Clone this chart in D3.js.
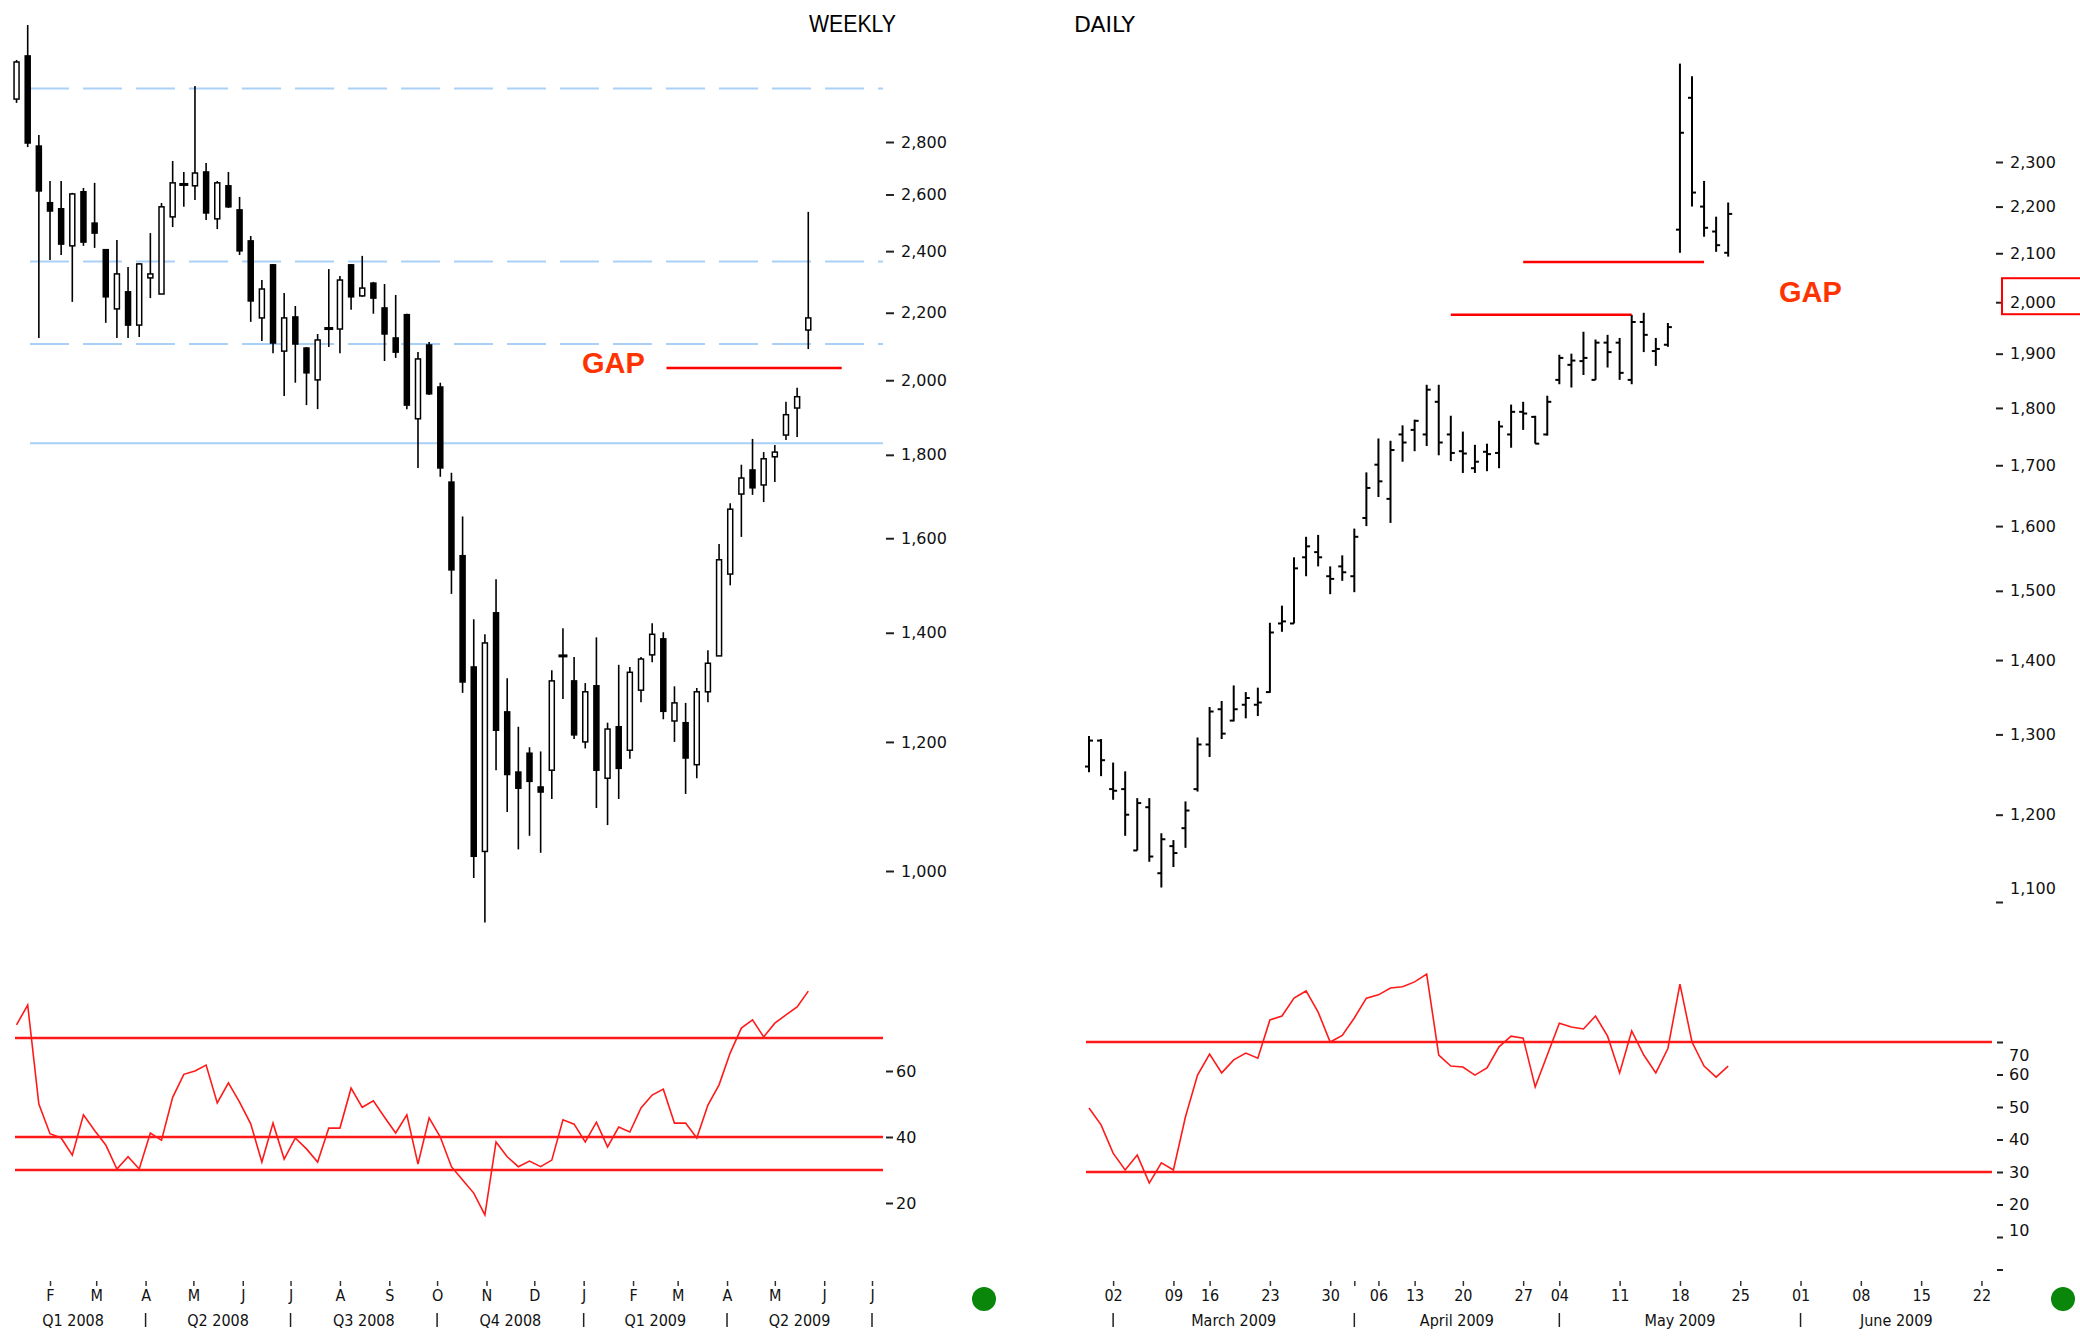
<!DOCTYPE html>
<html>
<head>
<meta charset="utf-8">
<script src="https://cdn.jsdelivr.net/npm/d3@7"></script>
<style>
  html, body { margin: 0; padding: 0; background: #fff; }
  svg { display: block; }
  .lbl { font-family: "DejaVu Sans", Verdana, sans-serif; font-size: 16px; fill: #111; }
  .xl { font-family: "DejaVu Sans Condensed", "DejaVu Sans", sans-serif; font-stretch: condensed; font-size: 16px; fill: #111; }
  .gap { font-family: "Liberation Sans", Arial, sans-serif; font-weight: bold; font-size: 29px; fill: #ff3300; }
  .title { font-family: "DejaVu Sans", Verdana, sans-serif; font-size: 22px; fill: #000; }
</style>
</head>
<body>
<div id="chart"></div>
<script>
// ---------- weekly candles (Jan 2008 - May 2009) ----------
var weeklyStart = "2008-01-11";
var weeklyOpen  = [2975,3162,2784,2570,2548,2418,2610,2497,2405,2212,2266,2162,2311,2259,2519,2639,2632,2684,2512,2632,2544,2435,2184,2354,2084,2187,2093,2001,2153,2150,2354,2253,2294,2215,2123,2194,1894,2102,1981,1732,1561,1334,1028,1440,1252,1150,1181,1126,1153,1357,1308,1200,1299,1140,1226,1186,1291,1357,1388,1236,1233,1162,1288,1355,1521,1703,1762,1725,1795,1851,1923,2147];
var weeklyHigh  = [3144,3303,2828,2650,2650,2606,2624,2643,2407,2438,2347,2360,2462,2569,2726,2684,3030,2718,2650,2684,2591,2452,2304,2357,2262,2221,2096,2135,2340,2317,2357,2384,2298,2291,2256,2197,2081,2111,1993,1755,1650,1427,1397,1510,1313,1226,1191,1184,1328,1409,1353,1304,1391,1233,1338,1334,1353,1419,1401,1298,1268,1295,1366,1587,1681,1775,1841,1807,1825,1940,1979,2537];
var weeklyLow   = [2959,2780,2123,2370,2387,2234,2418,2411,2169,2123,2123,2126,2246,2259,2483,2555,2580,2508,2476,2551,2387,2172,2114,2078,1956,1993,1931,1920,2096,2078,2209,2250,2197,2055,2064,1920,1767,1959,1745,1479,1286,990,930,1153,1087,1031,1051,1026,1107,1275,1205,1189,1093,1067,1107,1172,1269,1343,1239,1200,1115,1140,1269,1355,1497,1603,1701,1684,1732,1838,1846,2090];
var weeklyClose = [3135,2796,2613,2540,2424,2602,2431,2462,2250,2324,2162,2357,2324,2555,2643,2635,2680,2533,2643,2555,2401,2237,2275,2108,2184,2105,2021,2117,2150,2304,2250,2278,2246,2135,2081,1931,2061,1962,1767,1530,1306,1021,1380,1220,1146,1124,1135,1118,1308,1353,1212,1288,1153,1222,1156,1324,1349,1397,1253,1268,1173,1288,1341,1552,1667,1742,1718,1790,1807,1905,1954,2184];
var weeklyRsi   = [74,80,50,41,39.7,34.5,46.7,42,37.6,30.3,34,30.3,41.2,39,52,59,60,61.8,50.3,56.4,50.6,44,32.4,44.2,33.3,39.7,36.4,32.4,42.7,42.7,54.8,49,51,46,41.2,46.7,31.8,45.8,40,31,27,23,16.4,38.5,34,31,32.7,31,33,45.2,43.9,38.5,44.5,37,43,41.5,48.8,52.7,54.5,44.2,44.2,39.7,49.7,55.8,65.5,73,75.5,70.3,74.5,77,79.4,84.2];

var weeklyPriceTicks = [1000,1200,1400,1600,1800,2000,2200,2400,2600,2800];
var weeklyLevels = [3020, 2365, 2105, 1830];
var weeklyLevelDashed = [true, true, true, false];
var weeklyGap = { from: "2009-02-22", to: "2009-06-12", value: 2035 };
var weeklyRsiLevels = [70, 40, 30];
var weeklyRsiTicks = [20, 40, 60];
var monthLetters = ["J","F","M","A","M","J","J","A","S","O","N","D"];
var quarterNames = ["Q1 2008","Q2 2008","Q3 2008","Q4 2008","Q1 2009","Q2 2009"];

// ---------- daily bars (26 Feb - 22 May 2009) ----------
var dailyDates = ["2009-02-26","2009-02-27",
  "2009-03-02","2009-03-03","2009-03-04","2009-03-05","2009-03-06",
  "2009-03-09","2009-03-12","2009-03-13",
  "2009-03-16","2009-03-17","2009-03-18","2009-03-19","2009-03-20",
  "2009-03-23","2009-03-24","2009-03-25","2009-03-26","2009-03-27",
  "2009-03-30","2009-03-31","2009-04-01","2009-04-02",
  "2009-04-06","2009-04-08","2009-04-09",
  "2009-04-13","2009-04-15","2009-04-16","2009-04-17",
  "2009-04-20","2009-04-21","2009-04-22","2009-04-23","2009-04-24",
  "2009-04-27","2009-04-28","2009-04-29",
  "2009-05-04","2009-05-05","2009-05-06","2009-05-07","2009-05-08",
  "2009-05-11","2009-05-12","2009-05-13","2009-05-14","2009-05-15",
  "2009-05-18","2009-05-19","2009-05-20","2009-05-21","2009-05-22"];
var futureDates = ["2009-05-25","2009-05-26","2009-05-27","2009-05-28","2009-05-29",
  "2009-06-01","2009-06-02","2009-06-03","2009-06-04","2009-06-05",
  "2009-06-08","2009-06-09","2009-06-10","2009-06-11","2009-06-12",
  "2009-06-15","2009-06-16","2009-06-17","2009-06-18","2009-06-19",
  "2009-06-22","2009-06-23","2009-06-24","2009-06-25","2009-06-26"];
var dailyOpen  = [1259,1292,1231,1231,1158,1209,1132,1163,1184,1231,1287,1333,1318,1339,1339,1356,1452,1452,1551,1559,1522,1537,1522,1613,1701,1644,1753,1761,1753,1811,1753,1724,1695,1723,1721,1753,1793,1784,1753,1851,1879,1886,1851,1921,1921,1851,1961,1905,1917,2150,2452,2200,2146,2101];
var dailyHigh  = [1298,1294,1264,1253,1220,1220,1178,1170,1216,1296,1336,1344,1365,1356,1362,1453,1478,1551,1583,1586,1537,1554,1596,1688,1746,1742,1769,1779,1842,1842,1786,1758,1735,1737,1777,1806,1811,1786,1822,1898,1900,1942,1927,1936,1930,1975,1979,1930,1959,2537,2505,2257,2178,2209];
var dailyLow   = [1252,1247,1218,1175,1158,1145,1116,1139,1161,1228,1271,1294,1317,1321,1324,1355,1440,1452,1522,1537,1495,1515,1498,1600,1647,1605,1706,1724,1733,1717,1707,1687,1687,1690,1695,1730,1761,1737,1751,1843,1837,1860,1851,1874,1851,1843,1903,1877,1913,2101,2200,2135,2103,2093];
var dailyClose = [1292,1267,1229,1200,1214,1151,1171,1155,1205,1287,1330,1301,1333,1348,1342,1439,1455,1534,1568,1551,1518,1528,1583,1662,1673,1726,1739,1777,1833,1739,1721,1720,1706,1719,1767,1793,1790,1737,1811,1892,1887,1892,1921,1903,1864,1961,1936,1909,1951,2368,2231,2154,2117,2184];
var dailyRsi   = [49.7,44.5,35.8,30.6,35.2,26.6,32.8,30.6,47,59.8,66.3,60.5,64.5,66.6,65,76.8,78,83.5,85.7,79.2,70,72,77.4,83.5,84.5,86.6,87,88.5,90.9,66,62.6,62.3,59.8,62,68.5,71.8,71.2,56.2,66,75.8,74.6,74,78,71.8,60.5,73.4,66,60.5,68,87.8,70,62.6,59.2,62.6];

var dailyPriceTicks = [1100,1200,1300,1400,1500,1600,1700,1800,1900,2000,2100,2200,2300];
var dailyGaps = [
  { from: "2009-04-27", to: "2009-05-20", value: 2082 },
  { from: "2009-04-17", to: "2009-05-12", value: 1975 }
];
var dailyRsiLevels = [70, 30];
var dailyRsiTicks = [0, 10, 20, 30, 40, 50, 60, 70];
var monthNames = ["January","February","March","April","May","June"];

// ---------- drawing ----------
var parse = d3.timeParse("%Y-%m-%d");
var svg = d3.select("#chart").append("svg")
  .attr("width", 2080).attr("height", 1338);
svg.append("rect").attr("width", 2080).attr("height", 1338).attr("fill", "#fff");

var red = "#ff1a1a";

// ===== WEEKLY =====
var wStart = parse(weeklyStart);
var weeks = weeklyOpen.map(function (d, i) {
  return { date: d3.timeWeek.offset(wStart, i), o: d, h: weeklyHigh[i], l: weeklyLow[i], c: weeklyClose[i], rsi: weeklyRsi[i] };
});

var xW = d3.scaleTime().domain([new Date(2008, 1, 1), new Date(2009, 6, 1)]).range([50, 872]);
var yW = d3.scaleLog().domain([1000, 2800]).range([871, 142]);

var gW = svg.append("g");

// support / resistance levels
weeklyLevels.forEach(function (v, i) {
  gW.append("line")
    .attr("x1", 30).attr("x2", 883)
    .attr("y1", yW(v)).attr("y2", yW(v))
    .attr("stroke", "#a9d0f7").attr("stroke-width", 2)
    .attr("stroke-dasharray", weeklyLevelDashed[i] ? "39,14" : null);
});

// candles
var candle = gW.selectAll(".candle").data(weeks).enter().append("g").attr("class", "candle");
candle.append("line")
  .attr("x1", function (d) { return xW(d.date); })
  .attr("x2", function (d) { return xW(d.date); })
  .attr("y1", function (d) { return yW(d.h); })
  .attr("y2", function (d) { return yW(d.l); })
  .attr("stroke", "#000").attr("stroke-width", 1.6);
candle.append("rect")
  .each(function (d) {
    var top = yW(Math.max(d.o, d.c)), bot = yW(Math.min(d.o, d.c));
    var doji = bot - top < 3;
    var w = doji ? 9 : 5;
    d3.select(this)
      .attr("x", xW(d.date) - w / 2)
      .attr("y", doji ? (top + bot) / 2 - 1.5 : top)
      .attr("width", w)
      .attr("height", doji ? 3 : bot - top)
      .attr("fill", (d.c < d.o || doji) ? "#000" : "#fff")
      .attr("stroke", "#000")
      .attr("stroke-width", doji ? 0 : 1.5);
  });

// gap
gW.append("line")
  .attr("x1", xW(parse(weeklyGap.from))).attr("x2", xW(parse(weeklyGap.to)))
  .attr("y1", yW(weeklyGap.value)).attr("y2", yW(weeklyGap.value))
  .attr("stroke", "#ff0000").attr("stroke-width", 2.5);
gW.append("text").attr("class", "gap").attr("x", 582).attr("y", 373).text("GAP");

// price axis
var axW = gW.append("g").attr("transform", "translate(886,0)")
  .call(d3.axisRight(yW).tickValues(weeklyPriceTicks).tickSize(8).tickPadding(7).tickFormat(d3.format(",")));
axW.select(".domain").remove();
axW.selectAll("line").attr("stroke", "#222").attr("stroke-width", 2);
axW.selectAll("text").attr("class", "lbl");
axW.attr("font-family", null).attr("font-size", null);

gW.append("text").attr("x", 809).attr("y", 32)
  .attr("font-family", "Liberation Sans, Arial, sans-serif").attr("font-size", 23)
  .attr("textLength", 87).attr("lengthAdjust", "spacingAndGlyphs")
  .attr("fill", "#000").text("WEEKLY");

// weekly RSI
var yWR = d3.scaleLinear().domain([0, 100]).range([1269, 939]);
weeklyRsiLevels.forEach(function (v) {
  gW.append("line").attr("x1", 15).attr("x2", 883)
    .attr("y1", yWR(v)).attr("y2", yWR(v))
    .attr("stroke", red).attr("stroke-width", 2.6);
});
gW.append("path").datum(weeks)
  .attr("fill", "none").attr("stroke", red).attr("stroke-width", 1.6)
  .attr("d", d3.line().x(function (d) { return xW(d.date); }).y(function (d) { return yWR(d.rsi); }));
var axWR = gW.append("g").attr("transform", "translate(886,0)")
  .call(d3.axisRight(yWR).tickValues(weeklyRsiTicks).tickSize(7).tickPadding(3));
axWR.select(".domain").remove();
axWR.selectAll("line").attr("stroke", "#222").attr("stroke-width", 2);
axWR.selectAll("text").attr("class", "lbl");
axWR.attr("font-family", null).attr("font-size", null);

// weekly time axis
var monthStarts = d3.timeMonth.range(new Date(2008, 1, 1), new Date(2009, 6, 2));
var axWX = gW.append("g").attr("transform", "translate(0,1281)")
  .call(d3.axisBottom(xW).tickValues(monthStarts).tickSize(5).tickPadding(4)
    .tickFormat(function (d) { return monthLetters[d.getMonth()]; }));
axWX.select(".domain").remove();
axWX.selectAll("line").attr("stroke", "#333").attr("stroke-width", 1.5);
axWX.selectAll("text").attr("class", "xl");
axWX.attr("font-family", null).attr("font-size", null);

var qStarts = d3.timeMonth.every(3).range(new Date(2008, 0, 1), new Date(2009, 6, 2));
qStarts.slice(1).forEach(function (d) {
  gW.append("line").attr("x1", xW(d)).attr("x2", xW(d)).attr("y1", 1313).attr("y2", 1327)
    .attr("stroke", "#222").attr("stroke-width", 1.5);
});
quarterNames.forEach(function (q, i) {
  gW.append("text").attr("class", "xl").attr("text-anchor", "middle")
    .attr("x", (xW(qStarts[i]) + xW(qStarts[i + 1])) / 2).attr("y", 1326).text(q);
});

// ===== DAILY =====
var allDays = dailyDates.concat(futureDates);
var xD = d3.scalePoint().domain(allDays).range([1089, 1089 + (allDays.length - 1) * 12.06]);
var yD = d3.scaleLog().domain([1100, 2300]).range([902, 162]);

var days = dailyDates.map(function (d, i) {
  return { date: d, o: dailyOpen[i], h: dailyHigh[i], l: dailyLow[i], c: dailyClose[i], rsi: dailyRsi[i] };
});

var gD = svg.append("g");

dailyGaps.forEach(function (g) {
  gD.append("line").attr("x1", xD(g.from)).attr("x2", xD(g.to))
    .attr("y1", yD(g.value)).attr("y2", yD(g.value))
    .attr("stroke", "#ff0000").attr("stroke-width", 2.5);
});

var bar = gD.selectAll(".bar").data(days).enter().append("g").attr("class", "bar");
bar.append("line")
  .attr("x1", function (d) { return xD(d.date); }).attr("x2", function (d) { return xD(d.date); })
  .attr("y1", function (d) { return yD(d.h); }).attr("y2", function (d) { return yD(d.l); })
  .attr("stroke", "#000").attr("stroke-width", 2);
bar.append("line")
  .attr("x1", function (d) { return xD(d.date) - 4; }).attr("x2", function (d) { return xD(d.date); })
  .attr("y1", function (d) { return yD(d.o); }).attr("y2", function (d) { return yD(d.o); })
  .attr("stroke", "#000").attr("stroke-width", 2);
bar.append("line")
  .attr("x1", function (d) { return xD(d.date); }).attr("x2", function (d) { return xD(d.date) + 4; })
  .attr("y1", function (d) { return yD(d.c); }).attr("y2", function (d) { return yD(d.c); })
  .attr("stroke", "#000").attr("stroke-width", 2);

gD.append("text").attr("class", "gap").attr("x", 1779).attr("y", 302).text("GAP");

var axD = gD.append("g").attr("transform", "translate(1996,0)")
  .call(d3.axisRight(yD).tickValues(dailyPriceTicks).tickSize(7).tickPadding(7).tickFormat(d3.format(",")));
axD.select(".domain").remove();
axD.selectAll("line").attr("stroke", "#222").attr("stroke-width", 2);
axD.selectAll("text").attr("class", "lbl")
  .attr("transform", function (d) { return d === 1100 ? "translate(0,-14)" : null; });
axD.attr("font-family", null).attr("font-size", null);

gD.append("rect").attr("x", 2002).attr("y", yD(2000) - 24).attr("width", 100).attr("height", 36)
  .attr("fill", "none").attr("stroke", "#ff0000").attr("stroke-width", 2);

gD.append("text").attr("class", "title").attr("x", 1074).attr("y", 32).text("DAILY");

// daily RSI
var yDR = d3.scaleLinear().domain([0, 100]).range([1269.5, 944.5]);
dailyRsiLevels.forEach(function (v) {
  gD.append("line").attr("x1", 1086).attr("x2", 1992)
    .attr("y1", yDR(v)).attr("y2", yDR(v))
    .attr("stroke", red).attr("stroke-width", 2.6);
});
gD.append("path").datum(days)
  .attr("fill", "none").attr("stroke", red).attr("stroke-width", 1.6)
  .attr("d", d3.line().x(function (d) { return xD(d.date); }).y(function (d) { return yDR(d.rsi); }));
var axDR = gD.append("g").attr("transform", "translate(1997,0)")
  .call(d3.axisRight(yDR).tickValues(dailyRsiTicks).tickSize(6).tickPadding(6)
    .tickFormat(function (d) { return d === 0 ? "" : d; }));
axDR.select(".domain").remove();
axDR.selectAll("line").attr("stroke", "#222").attr("stroke-width", 2);
axDR.selectAll("text").attr("class", "lbl")
  .attr("transform", function (d) { return d === 70 ? "translate(0,13)" : d === 10 ? "translate(0,-7)" : null; });
axDR.attr("font-family", null).attr("font-size", null);

// daily time axis: week starts get a label, month starts get a tick
var weekFirst = [], monthFirst = [];
allDays.forEach(function (d, i) {
  if (i === 0) return;
  var p = parse(d), q = parse(allDays[i - 1]);
  if (d3.timeMonday.floor(p) > d3.timeMonday.floor(q) && i > 1) weekFirst.push(d);
  if (p.getMonth() !== q.getMonth()) monthFirst.push(d);
});
var tickDays = allDays.filter(function (d) { return weekFirst.indexOf(d) >= 0 || monthFirst.indexOf(d) >= 0; });
var axDX = gD.append("g").attr("transform", "translate(0,1281)")
  .call(d3.axisBottom(xD).tickValues(tickDays).tickSize(5).tickPadding(4)
    .tickFormat(function (d) { return weekFirst.indexOf(d) >= 0 ? d.slice(8) : ""; }));
axDX.select(".domain").remove();
axDX.selectAll("line").attr("stroke", "#333").attr("stroke-width", 1.5);
axDX.selectAll("text").attr("class", "xl");
axDX.attr("font-family", null).attr("font-size", null);

monthFirst.forEach(function (d, i) {
  gD.append("line").attr("x1", xD(d)).attr("x2", xD(d)).attr("y1", 1313).attr("y2", 1327)
    .attr("stroke", "#222").attr("stroke-width", 1.5);
  var end = i + 1 < monthFirst.length ? xD(monthFirst[i + 1]) : 1992;
  var p = parse(d);
  gD.append("text").attr("class", "xl").attr("text-anchor", "middle")
    .attr("x", (xD(d) + end) / 2).attr("y", 1326)
    .text(monthNames[p.getMonth()] + " " + p.getFullYear());
});

// status dots
[984, 2063].forEach(function (cx) {
  svg.append("circle").attr("cx", cx).attr("cy", 1299).attr("r", 12).attr("fill", "#0a860a");
});
</script>
</body>
</html>
